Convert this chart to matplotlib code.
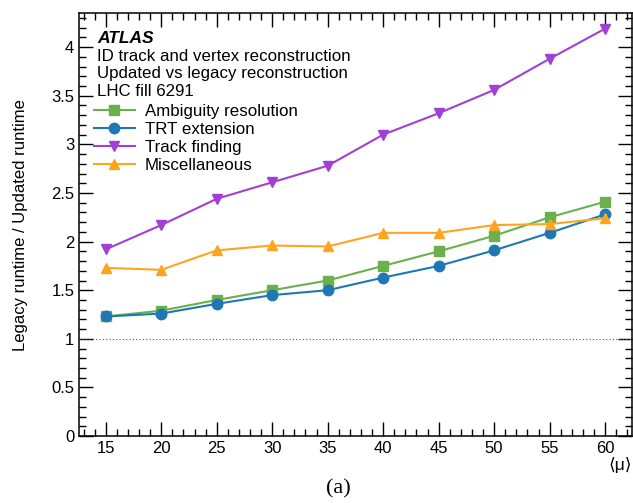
import matplotlib
matplotlib.use("Agg")
import matplotlib.pyplot as plt
from matplotlib.ticker import MultipleLocator

plt.rcParams['font.family'] = ['Liberation Sans', 'DejaVu Sans']

# data
mu = [15, 20, 25, 30, 35, 40, 45, 50, 55, 60]
ambiguity = [1.23, 1.29, 1.40, 1.50, 1.60, 1.75, 1.90, 2.06, 2.25, 2.41]
trt = [1.23, 1.26, 1.36, 1.45, 1.50, 1.63, 1.75, 1.91, 2.09, 2.28]
track_finding = [1.92, 2.17, 2.44, 2.61, 2.78, 3.10, 3.32, 3.56, 3.88, 4.19]
misc = [1.73, 1.71, 1.91, 1.96, 1.95, 2.09, 2.09, 2.17, 2.18, 2.24]

labels = ['Ambiguity resolution', 'TRT extension', 'Track finding', 'Miscellaneous']
colors = ['#6ab04c', '#1f77b4', '#a23fd4', '#ffa41f']
markers = ['s', 'o', 'v', '^']

fig = plt.figure(figsize=(6.33, 5.03), dpi=100)
ax = fig.add_axes([0.125, 0.133, 0.873, 0.841])

for ys, lab, c, m in zip([ambiguity, trt, track_finding, misc], labels, colors, markers):
    ax.plot(mu, ys, color=c, marker=m, markersize=7.5, lw=1.5, label=lab)

# reference line at 1
ax.axhline(1.0, color='#555555', lw=0.8, ls=(0, (1, 2)))

ax.set_xlim(12.6, 62.4)
ax.set_ylim(0, 4.35)
ax.xaxis.set_major_locator(MultipleLocator(5))
ax.xaxis.set_minor_locator(MultipleLocator(1))
ax.yaxis.set_minor_locator(MultipleLocator(0.1))
ax.set_yticks([0, 0.5, 1, 1.5, 2, 2.5, 3, 3.5, 4])
ax.set_yticklabels(['0', '0.5', '1', '1.5', '2', '2.5', '3', '3.5', '4'])
ax.tick_params(which='both', direction='in', top=True, right=True, labelsize=12)
ax.tick_params(which='major', length=10, width=1)
ax.tick_params(which='minor', length=5, width=1)
for s in ax.spines.values():
    s.set_linewidth(1.1)

ax.set_ylabel('Legacy runtime / Updated runtime', fontsize=12, labelpad=17)
ax.set_xlabel('⟨μ⟩', fontsize=12.5, loc='right', labelpad=1,
              family=['Liberation Sans', 'DejaVu Sans'])

tx = 0.0325
fs = 12.2
ax.text(tx, 0.94, 'ATLAS', transform=ax.transAxes, fontsize=12.5, fontweight='bold',
        fontstyle='italic', va='center')
ax.text(tx, 0.898, 'ID track and vertex reconstruction', transform=ax.transAxes,
        fontsize=fs, va='center')
ax.text(tx, 0.856, 'Updated vs legacy reconstruction', transform=ax.transAxes,
        fontsize=fs, va='center')
ax.text(tx, 0.815, 'LHC fill 6291', transform=ax.transAxes, fontsize=fs, va='center')

ax.legend(loc='upper left', bbox_to_anchor=(tx - 0.012, 0.793), frameon=False,
          fontsize=fs, handlelength=2.4, handletextpad=0.6, labelspacing=0.18,
          borderaxespad=0, borderpad=0.2)

fig.text(0.535, 0.018, '(a)', fontsize=16, family='Liberation Serif', ha='center')

fig.savefig('out.png', dpi=100)
